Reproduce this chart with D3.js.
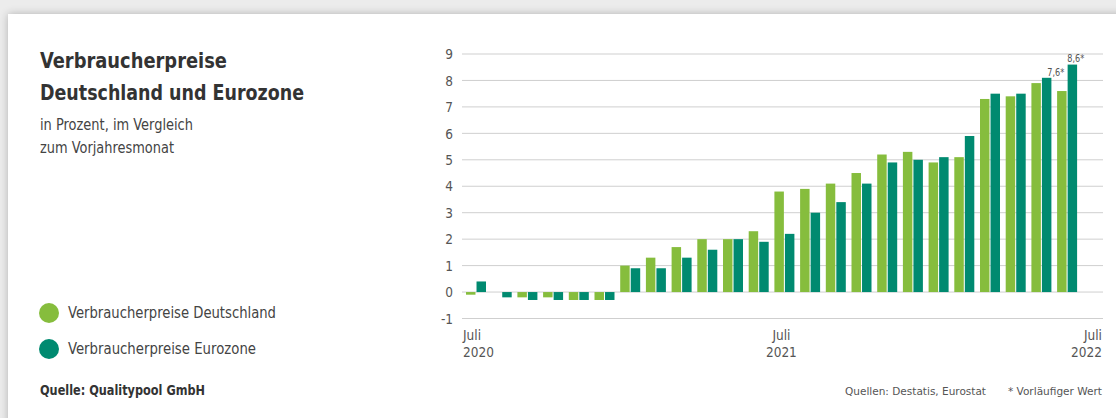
<!DOCTYPE html>
<html><head><meta charset="utf-8">
<script src="https://cdn.jsdelivr.net/npm/d3@7"></script>
<style>
html,body{margin:0;padding:0;background:#ececec;}
svg{display:block;}
text{font-family:"DejaVu Sans Condensed","Roboto",sans-serif;}
</style></head>
<body><svg id="c" width="1116" height="418"></svg>
<script>
const months = ["2020-07","2020-08","2020-09","2020-10","2020-11","2020-12",
 "2021-01","2021-02","2021-03","2021-04","2021-05","2021-06",
 "2021-07","2021-08","2021-09","2021-10","2021-11","2021-12",
 "2022-01","2022-02","2022-03","2022-04","2022-05","2022-06"];
const deutschland = [-0.1,0.0,-0.2,-0.2,-0.3,-0.3,1.0,1.3,1.7,2.0,2.0,2.3,3.8,3.9,4.1,4.5,5.2,5.3,4.9,5.1,7.3,7.4,7.9,7.6];
const eurozone    = [0.4,-0.2,-0.3,-0.3,-0.3,-0.3,0.9,0.9,1.3,1.6,2.0,1.9,2.2,3.0,3.4,4.1,4.9,5.0,5.1,5.9,7.5,7.5,8.1,8.6];
const seriesNames = ["Verbraucherpreise Deutschland","Verbraucherpreise Eurozone"];
const colors = ["#86bd3d","#008a70"];
const yTicks = [-1,0,1,2,3,4,5,6,7,8,9];
const xTickLabels = [["2020-07","Juli","2020"],["2021-07","Juli","2021"],["2022-07","Juli","2022"]];
const annotations = [["2022-06",0,"7,6*"],["2022-06",1,"8,6*"]];

const svg = d3.select("#c");
const defs = svg.append("defs");
const f = defs.append("filter").attr("id","sh").attr("x","-5%").attr("y","-10%").attr("width","110%").attr("height","120%");
f.append("feGaussianBlur").attr("in","SourceAlpha").attr("stdDeviation",4);
f.append("feOffset").attr("dx",0).attr("dy",0).attr("result","b");
f.append("feComponentTransfer").append("feFuncA").attr("type","linear").attr("slope",0.25);
const fm = f.append("feMerge"); fm.append("feMergeNode"); fm.append("feMergeNode").attr("in","SourceGraphic");
svg.append("rect").attr("x",8).attr("y",14).attr("width",1140).attr("height",440).attr("fill","#fff").attr("filter","url(#sh)");

function txt(x0,y0,size,weight,fill,s,len,anchor){
  const t = svg.append("text").attr("x",x0).attr("y",y0).attr("font-size",size)
    .attr("font-weight",weight).attr("fill",fill).attr("text-anchor",anchor||"start").text(s);
  if (len) t.attr("textLength",len).attr("lengthAdjust","spacingAndGlyphs");
  return t;
}
// Titles
const tc = "#333";
txt(40,68,22,"bold",tc,"Verbraucherpreise",187);
txt(40,100,22,"bold",tc,"Deutschland und Eurozone",264);
txt(40,130,15,"normal","#444","in Prozent, im Vergleich",153);
txt(40,153,15,"normal","#444","zum Vorjahresmonat",134);

// Legend
const legLens = [208,188];
seriesNames.forEach((n,i)=>{
  const cy = 313 + i*36;
  svg.append("circle").attr("cx",49).attr("cy",cy).attr("r",10).attr("fill",colors[i]);
  txt(68,cy+5,15,"normal","#444",n,legLens[i]);
});
txt(40,395,14.5,"bold",tc,"Quelle: Qualitypool GmbH",165);

// Chart
const gridL = 462, gridR = 1103;
const y = d3.scaleLinear().domain([-1,9]).range([318.5,54]);
const x = d3.scaleBand().domain(months).range([466,1077.1]).paddingInner(0.222).paddingOuter(0);
const xs = d3.scaleBand().domain([0,1]).range([0,x.bandwidth()]).paddingInner(0.1);

const g = svg.append("g");
g.selectAll("line.grid").data(yTicks).join("line").attr("class","grid")
 .attr("x1",gridL).attr("x2",gridR).attr("y1",d=>y(d)).attr("y2",d=>y(d))
 .attr("stroke","#cfcfcf").attr("stroke-width",1);
const yAxis = d3.axisLeft(y).tickValues(yTicks).tickSize(0).tickPadding(0).tickFormat(d=>String(d));
const ya = svg.append("g").attr("transform",`translate(453,0)`).call(yAxis);
ya.select(".domain").remove();
ya.selectAll("text").attr("font-size",13.5).attr("fill","#555").attr("dy","0.35em")
 .style("font-family",'"DejaVu Sans Condensed","Roboto",sans-serif');

const data = months.map((m,i)=>({m, v:[deutschland[i],eurozone[i]]}));
const grp = g.selectAll("g.m").data(data).join("g").attr("transform",d=>`translate(${x(d.m)},0)`);
grp.selectAll("rect").data(d=>d.v.map((v,k)=>({v,k}))).join("rect")
 .attr("x",d=>xs(d.k)).attr("width",xs.bandwidth())
 .attr("y",d=>y(Math.max(0,d.v))).attr("height",d=>Math.abs(y(d.v)-y(0)))
 .attr("fill",d=>colors[d.k]);

// X labels
xTickLabels.forEach((t,i)=>{
  let px, anchor;
  if (i===0){ px = gridL+1; anchor="start"; }
  else if (i===xTickLabels.length-1){ px = gridR-1; anchor="end"; }
  else { px = x(t[0]) + x.bandwidth()/2 - 3; anchor="middle"; }
  const tx = svg.append("text").attr("x",px).attr("text-anchor",anchor).attr("font-size",13.5).attr("fill","#555");
  tx.append("tspan").attr("x",px).attr("y",340).text(t[1]);
  tx.append("tspan").attr("x",px).attr("y",357).text(t[2]);
});

// annotations
annotations.forEach(a=>{
  const i = months.indexOf(a[0]);
  const v = a[1]===0 ? deutschland[i] : eurozone[i];
  const cx = x(a[0]) + xs(a[1]) + xs.bandwidth()/2;
  const isEZ = a[1]===1;
  svg.append("text").attr("x", isEZ ? cx+3.5 : cx - 6).attr("y", isEZ ? y(v)-3 : y(v)-15)
   .attr("text-anchor","middle").attr("font-size",10.5).attr("fill","#555")
   .attr("textLength",17).attr("lengthAdjust","spacingAndGlyphs").text(a[2]);
});

txt(986,395,11,"normal","#555","Quellen: Destatis, Eurostat",141,"end");
txt(1102,395,11,"normal","#555","* Vorläufiger Wert",94,"end");
</script></body></html>
